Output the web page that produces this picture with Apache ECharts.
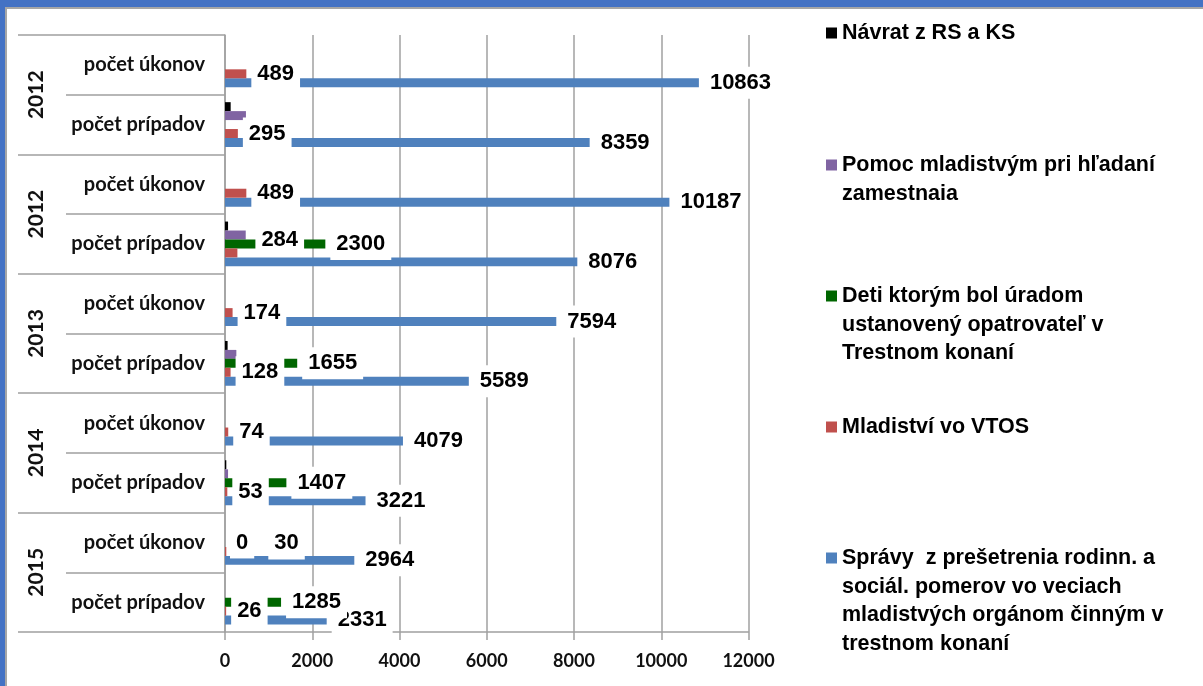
<!DOCTYPE html>
<html><head><meta charset="utf-8">
<script src="https://cdn.jsdelivr.net/npm/echarts@6/dist/echarts.min.js"></script>
<style>html,body{margin:0;padding:0;background:#fff}#c{width:1203px;height:686px}</style>
</head><body><div id="c"></div>
<script>
// Categories, top to bottom
const categories = ['počet úkonov','počet prípadov','počet úkonov','počet prípadov','počet úkonov','počet prípadov','počet úkonov','počet prípadov','počet úkonov','počet prípadov'];
const years = ['2012','2012','2013','2014','2015'];

// Series values (same order as categories)
const navrat    = [null, 130, null, 70, null, 60, null, 30, null, null];
const pomoc     = [null, 480, null, 475, null, 260, null, 70, null, null];
const deti      = [null, null, null, 2300, null, 1655, null, 1407, 0, 1285];
const mladistvi = [489, 295, 489, 284, 174, 128, 74, 53, 30, 26];
const spravy    = [10863, 8359, 10187, 8076, 7594, 5589, 4079, 3221, 2964, 2331];

// Legend text lines
const legendLines = [
  ['Návrat z RS a KS'],
  ['Pomoc mladistvým pri hľadaní', 'zamestnaia'],
  ['Deti ktorým bol úradom', 'ustanovený opatrovateľ v', 'Trestnom konaní'],
  ['Mladiství vo VTOS'],
  ['Správy  z prešetrenia rodinn. a', 'sociál. pomerov vo veciach', 'mladistvých orgánom činným v', 'trestnom konaní']
];
const names = legendLines.map(l => l.join(' '));
const colors = ['#000000', '#8064A2', '#006600', '#C0504D', '#4F81BD'];
const legendCenters = [33, 165, 296, 427, 558];

const LH = 28.7;
const labelFont = {
  show: true, position: 'right', distance: 5,
  fontFamily: '"Liberation Sans", Arial, sans-serif',
  fontWeight: 'bold', fontSize: 22, lineHeight: 24, color: '#000',
  backgroundColor: '#fff', padding: [4, 6]
};

function makeSeries(idx, data, withLabel, z) {
  return {
    type: 'bar', name: names[idx], data: data, z: z,
    itemStyle: { color: colors[idx] },
    barGap: '0%', barCategoryGap: '25%',
    label: withLabel ? labelFont : { show: false },
    emphasis: { disabled: true }
  };
}

// a few data labels in the original were nudged away from their default spot
const labelNudges = { 3: [13, -13], 8: [37, -8] };
const redData = mladistvi.map((v, i) => labelNudges[i] ? { value: v, label: { offset: labelNudges[i] } } : v);

const legends = legendLines.map((lines, i) => {
  const n = lines.length;
  const pad = [];
  for (let k = 0; k < n - 1; k++) pad.push('{e| }');
  return {
    data: [names[i]], left: 826, top: legendCenters[i] - (2 * n - 1) * LH / 2,
    orient: 'vertical', padding: 0, itemWidth: 11, itemHeight: 11, icon: 'rect',
    selectedMode: false,
    formatter: () => pad.concat(lines.map(s => '{t|' + s + '}')).join('\n'),
    textStyle: {
      fontFamily: '"Liberation Sans", Arial, sans-serif', fontWeight: 'bold',
      fontSize: 21.5, color: '#000', lineHeight: LH,
      rich: {
        t: { fontFamily: '"Liberation Sans", Arial, sans-serif', fontWeight: 'bold', fontSize: 21.5, color: '#000', lineHeight: LH },
        e: { fontSize: 21.5, lineHeight: LH }
      }
    }
  };
});

const chart = echarts.init(document.getElementById('c'));
chart.setOption({
  animation: false,
  backgroundColor: '#fff',
  graphic: [
    { type: 'rect', shape: { x: 0, y: 0, width: 1203, height: 7 }, style: { fill: '#4472C4' }, z: 100 },
    { type: 'rect', shape: { x: 0, y: 7, width: 1203, height: 2 }, style: { fill: '#a6a6a6' }, z: 100 },
    { type: 'rect', shape: { x: 0, y: 0, width: 5, height: 686 }, style: { fill: '#4472C4' }, z: 100 },
    { type: 'rect', shape: { x: 5, y: 7, width: 2, height: 679 }, style: { fill: '#a6a6a6' }, z: 100 }
  ],
  legend: legends,
  grid: { left: 225, right: 454.5, top: 35, bottom: 54, containLabel: false },
  xAxis: {
    type: 'value', min: 0, max: 12000, interval: 2000,
    axisLine: { show: true, lineStyle: { color: '#a0a0a0', width: 1.5 } },
    axisTick: { show: true, length: 8, lineStyle: { color: '#a0a0a0', width: 1.5 } },
    splitLine: { show: true, lineStyle: { color: '#a0a0a0', width: 1.5 } },
    axisLabel: { margin: 20, formatter: v => String(v), fontFamily: 'Lato, sans-serif', fontWeight: 'bold', fontSize: 18, color: '#111' }
  },
  yAxis: [
    {
      type: 'category', data: categories, inverse: true, position: 'left',
      axisLine: { show: true, lineStyle: { color: '#a0a0a0', width: 1.5 } },
      axisTick: { show: true, length: 159, lineStyle: { color: '#a0a0a0', width: 1.5 } },
      axisLabel: { margin: 20, fontFamily: 'Lato, sans-serif', fontWeight: 'bold', fontSize: 20, color: '#111', interval: 0 }
    },
    {
      type: 'category', data: years, inverse: true, position: 'left', gridIndex: 0,
      axisLine: { show: false },
      axisTick: { show: true, length: 207, lineStyle: { color: '#a0a0a0', width: 1.5 } },
      axisLabel: { margin: 178, rotate: 90, fontFamily: 'Lato, sans-serif', fontWeight: 'bold', fontSize: 21, color: '#111', interval: 0 }
    }
  ],
  series: [
    makeSeries(0, navrat, false, 2),
    makeSeries(1, pomoc, false, 2),
    makeSeries(2, deti, true, 2),
    makeSeries(3, redData, true, 2),
    makeSeries(4, spravy, true, 1)
  ]
});
</script></body></html>
